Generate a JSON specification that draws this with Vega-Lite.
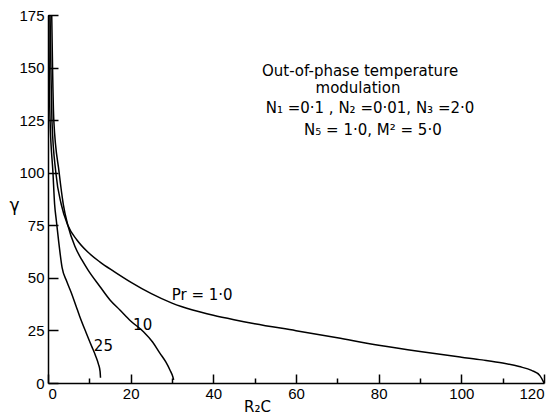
{
  "$schema": "https://vega.github.io/schema/vega-lite/v6.json",
  "width": 496,
  "height": 368,
  "autosize": "none",
  "padding": {"left": 48, "top": 15, "right": 9, "bottom": 37},
  "background": "white",
  "config": {
    "view": {"stroke": null},
    "font": "DejaVu Sans",
    "axis": {
      "domainColor": "black", "domainWidth": 1.5, "tickColor": "black", "tickWidth": 1.5,
      "labelColor": "black", "labelFontSize": 15, "labelFont": "Liberation Sans",
      "titleColor": "black", "titleFont": "DejaVu Sans", "titleFontWeight": "normal", "grid": false
    }
  },
  "resolve": {"axis": {"x": "independent"}},
  "datasets": {
    "curves": [
      {"curve": "Pr1", "x": 0.5, "y": 175}, {"curve": "Pr1", "x": 0.7, "y": 150}, {"curve": "Pr1", "x": 0.95, "y": 125},
      {"curve": "Pr1", "x": 1.9, "y": 100}, {"curve": "Pr1", "x": 3.2, "y": 85}, {"curve": "Pr1", "x": 4.8, "y": 75},
      {"curve": "Pr1", "x": 7, "y": 68}, {"curve": "Pr1", "x": 9.5, "y": 62.5}, {"curve": "Pr1", "x": 12.6, "y": 57.5},
      {"curve": "Pr1", "x": 16, "y": 53}, {"curve": "Pr1", "x": 20, "y": 48}, {"curve": "Pr1", "x": 25, "y": 42.5},
      {"curve": "Pr1", "x": 30, "y": 38}, {"curve": "Pr1", "x": 35, "y": 34.7}, {"curve": "Pr1", "x": 40, "y": 32.2},
      {"curve": "Pr1", "x": 45, "y": 30.1}, {"curve": "Pr1", "x": 50, "y": 28.2}, {"curve": "Pr1", "x": 60, "y": 24.9},
      {"curve": "Pr1", "x": 70, "y": 21.5}, {"curve": "Pr1", "x": 80, "y": 18}, {"curve": "Pr1", "x": 90, "y": 15},
      {"curve": "Pr1", "x": 100, "y": 12.3}, {"curve": "Pr1", "x": 105, "y": 11}, {"curve": "Pr1", "x": 110, "y": 9.5},
      {"curve": "Pr1", "x": 114, "y": 7.8}, {"curve": "Pr1", "x": 117, "y": 6}, {"curve": "Pr1", "x": 119, "y": 3.5},
      {"curve": "Pr1", "x": 120, "y": 0},
      {"curve": "Pr10", "x": 0.9, "y": 175}, {"curve": "Pr10", "x": 1.1, "y": 150}, {"curve": "Pr10", "x": 1.4, "y": 125},
      {"curve": "Pr10", "x": 2.7, "y": 100}, {"curve": "Pr10", "x": 3.7, "y": 85}, {"curve": "Pr10", "x": 4.8, "y": 75},
      {"curve": "Pr10", "x": 6.5, "y": 65}, {"curve": "Pr10", "x": 8.2, "y": 58.5}, {"curve": "Pr10", "x": 9.7, "y": 53.7},
      {"curve": "Pr10", "x": 12.6, "y": 45.8}, {"curve": "Pr10", "x": 15, "y": 39.5}, {"curve": "Pr10", "x": 17.4, "y": 34.7},
      {"curve": "Pr10", "x": 20, "y": 29.5}, {"curve": "Pr10", "x": 23.1, "y": 24.4}, {"curve": "Pr10", "x": 25.3, "y": 19.5},
      {"curve": "Pr10", "x": 27.1, "y": 14.1}, {"curve": "Pr10", "x": 28.5, "y": 10}, {"curve": "Pr10", "x": 29.5, "y": 6.2},
      {"curve": "Pr10", "x": 30.2, "y": 3}, {"curve": "Pr10", "x": 30.4, "y": 1.5},
      {"curve": "Pr25", "x": 0.2, "y": 175}, {"curve": "Pr25", "x": 0.3, "y": 150}, {"curve": "Pr25", "x": 0.5, "y": 125},
      {"curve": "Pr25", "x": 1.2, "y": 100}, {"curve": "Pr25", "x": 1.6, "y": 85}, {"curve": "Pr25", "x": 2, "y": 77.5},
      {"curve": "Pr25", "x": 2.6, "y": 67}, {"curve": "Pr25", "x": 3.4, "y": 55}, {"curve": "Pr25", "x": 4.5, "y": 48.5},
      {"curve": "Pr25", "x": 5.7, "y": 42.6}, {"curve": "Pr25", "x": 6.8, "y": 36.5}, {"curve": "Pr25", "x": 7.7, "y": 31.5},
      {"curve": "Pr25", "x": 9.2, "y": 24}, {"curve": "Pr25", "x": 10.6, "y": 17.3}, {"curve": "Pr25", "x": 11.5, "y": 13},
      {"curve": "Pr25", "x": 12.2, "y": 9}, {"curve": "Pr25", "x": 12.6, "y": 5.5}, {"curve": "Pr25", "x": 12.7, "y": 2.5}
    ],
    "labels": [
      {"text": "Out-of-phase temperature", "x": 75.5, "y": 148.4},
      {"text": "modulation", "x": 75, "y": 140.5},
      {"text": "N₁ =0·1 , N₂ =0·01, N₃ =2·0", "x": 77.9, "y": 130.8},
      {"text": "N₅ = 1·0, M² = 5·0", "x": 78.6, "y": 120.3},
      {"text": "Pr = 1·0", "x": 37.3, "y": 41.8},
      {"text": "10", "x": 22.9, "y": 27.8},
      {"text": "25", "x": 13.4, "y": 17.8}
    ]
  },
  "layer": [
    {
      "data": {"name": "curves"},
      "mark": {"type": "line", "color": "black", "strokeWidth": 1.5, "interpolate": "monotone", "clip": true},
      "encoding": {
        "x": {
          "field": "x", "type": "quantitative",
          "scale": {"domain": [0, 120], "nice": false, "zero": false},
          "axis": {
            "orient": "bottom",
            "values": [0, 20, 40, 60, 80, 100, 120],
            "tickSize": -9,
            "labelPadding": 12,
            "title": "R₂C", "titleFontSize": 15, "titleX": 209, "titleY": 23, "titleBaseline": "middle", "titleAlign": "center"
          }
        },
        "y": {
          "field": "y", "type": "quantitative",
          "scale": {"domain": [0, 175], "nice": false},
          "axis": {
            "values": [0, 25, 50, 75, 100, 125, 150, 175],
            "tickSize": -10, "labelPadding": 14,
            "title": "γ", "titleAngle": 0, "titleFontSize": 17, "titleX": -34, "titleY": 190,
            "titleAlign": "center", "titleBaseline": "middle"
          }
        },
        "detail": {"field": "curve"}
      }
    },
    {
      "data": {"name": "labels"},
      "mark": {"type": "text", "color": "black", "font": "DejaVu Sans", "fontSize": 15, "align": "center", "baseline": "middle"},
      "encoding": {
        "x": {
          "field": "x", "type": "quantitative",
          "axis": {
            "orient": "bottom",
            "values": [10, 30, 50, 70, 90, 110],
            "tickSize": -5, "labels": false, "domain": false, "title": null
          }
        },
        "y": {"field": "y", "type": "quantitative"},
        "text": {"field": "text"}
      }
    }
  ]
}
